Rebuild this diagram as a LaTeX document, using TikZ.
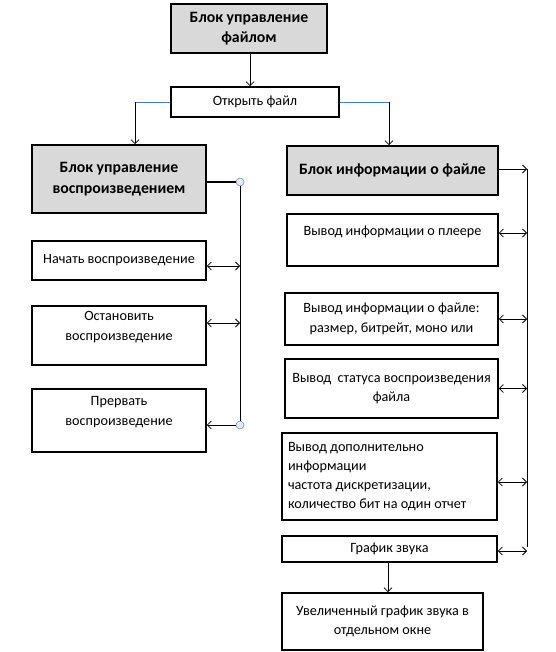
\documentclass[tikz,border=0pt]{standalone}
\usepackage{fontspec}
\setmainfont{Carlito}
\usetikzlibrary{arrows.meta}
\definecolor{hdrgray}{HTML}{D9D9D9}
\definecolor{linkblue}{HTML}{4A7EBB}
\definecolor{dotfill}{HTML}{DDEEF4}
\definecolor{dotdraw}{HTML}{7F8F9F}
\tikzset{
  box/.style={draw=black, line width=1.6pt, fill=white, align=center, inner sep=2pt,
    font=\fontsize{14.2}{19.5}\selectfont},
  hdr/.style={box, fill=hdrgray, font=\bfseries\fontsize{15.8}{20.5}\selectfont},
  conn/.style={line width=0.8pt, draw=black},
  tip/.style={-{Straight Barb[length=4pt,width=8pt,line width=0.8pt]}},
  dtip/.style={{Straight Barb[length=4pt,width=8pt,line width=0.8pt]}-{Straight Barb[length=4pt,width=8pt,line width=0.8pt]}},
  dot/.style={circle, draw=dotdraw, fill=dotfill, line width=0.6pt, minimum size=8pt, inner sep=0pt}
}
\begin{document}
\begin{tikzpicture}[x=1pt,y=-1pt]
\useasboundingbox (0,0) rectangle (555,652);
% nodes
\node[hdr, minimum width=156pt, minimum height=49pt] (top) at (249,28.5) {Блок управление\\файлом};
\node[box, minimum width=168pt, minimum height=30pt] (open) at (255,102) {Открыть файл};
\node[hdr, minimum width=174pt, minimum height=68pt] (leftH) at (119,179) {Блок управление\\воспроизведением};
\node[hdr, minimum width=211pt, minimum height=49pt] (rightH) at (392.5,170.5) {Блок информации о файле};
\node[box, minimum width=174pt, minimum height=39pt] (L1) at (119,260.5) {Начать воспроизведение};
\node[box, minimum width=174pt, minimum height=59pt] (L2) at (119,335.5) {Остановить\\воспроизведение\\\mbox{}};
\node[box, minimum width=174pt, minimum height=63pt] (L3) at (119,420.5) {Прервать\\воспроизведение\\\mbox{}};
\node[box, minimum width=211pt, minimum height=52pt] (R1) at (392.5,240) {Вывод информации о плеере\\\mbox{}};
\node[box, minimum width=213pt, minimum height=52pt] (R2) at (391.5,319) {Вывод информации о файле:\\размер, битрейт, моно или};
\node[box, minimum width=213pt, minimum height=59pt] (R3) at (391.5,388.5) {Вывод\ \ статуса воспроизведения\\файла};
\node[box, minimum width=215pt, minimum height=87pt, align=flush left, text width=203pt, font=\fontsize{14.2}{19}\selectfont] (R4) at (389.5,476.5) {Вывод дополнительно\\информации\\частота дискретизации,\\количество бит на один отчет};
\node[box, minimum width=215pt, minimum height=26pt] (R5) at (389.5,549) {График звука};
\node[box, minimum width=201pt, minimum height=57pt] (R6) at (382.5,621.5) {Увеличенный график звука в\\отдельном окне};
% bus coordinates
\coordinate (lbus) at (240,0);
\coordinate (rbus) at (527,0);
\node[dot] (d1) at (240,182) {};
\node[dot] (d2) at (240,425) {};
\coordinate (rtop) at (527,169);
\coordinate (rbot) at (527,547);
% top connectors
\draw[conn, tip] (top.south -| 250,0) -- (open.north -| 250,0);
\draw[linkblue, line width=0.8pt] (open.west) -- (open.west -| 135,0);
\draw[conn, tip] (open.west -| 135,0) -- (leftH.north -| 135,0);
\draw[linkblue, line width=0.8pt] (open.east) -- (open.east -| 389,0);
\draw[conn, tip] (open.east -| 389,0) -- (rightH.north -| 389,0);
% left bus
\draw[line width=1.6pt] (leftH.east |- d1) -- (d1.west);
\draw[conn] (d1.south) -- (d2.north);
\draw[conn, dtip] ([yshift=-5.5pt]L1.east) -- ([yshift=-5.5pt]L1.east -| lbus);
\draw[conn, dtip] ([yshift=12.5pt]L2.east) -- ([yshift=12.5pt]L2.east -| lbus);
\draw[conn, tip] (d2.west) -- (L3.east |- d2);
% right bus
\draw[conn, tip] (rightH.east |- rtop) -- (rtop);
\draw[conn] (rtop) -- (rbot);
\draw[conn, dtip] ([yshift=7pt]R1.east) -- ([yshift=7pt]R1.east -| rbus);
\draw[conn, dtip] (R2.east) -- (R2.east -| rbus);
\draw[conn, dtip] (R3.east) -- (R3.east -| rbus);
\draw[conn, dtip] ([yshift=-5.5pt]R4.east) -- ([yshift=-5.5pt]R4.east -| rbus);
\draw[conn, dtip] ([yshift=-2pt]R5.east) -- ([yshift=-2pt]R5.east -| rbus);
\draw[conn, tip] (R5.south -| 388,0) -- (R6.north -| 388,0);
\end{tikzpicture}
\end{document}
